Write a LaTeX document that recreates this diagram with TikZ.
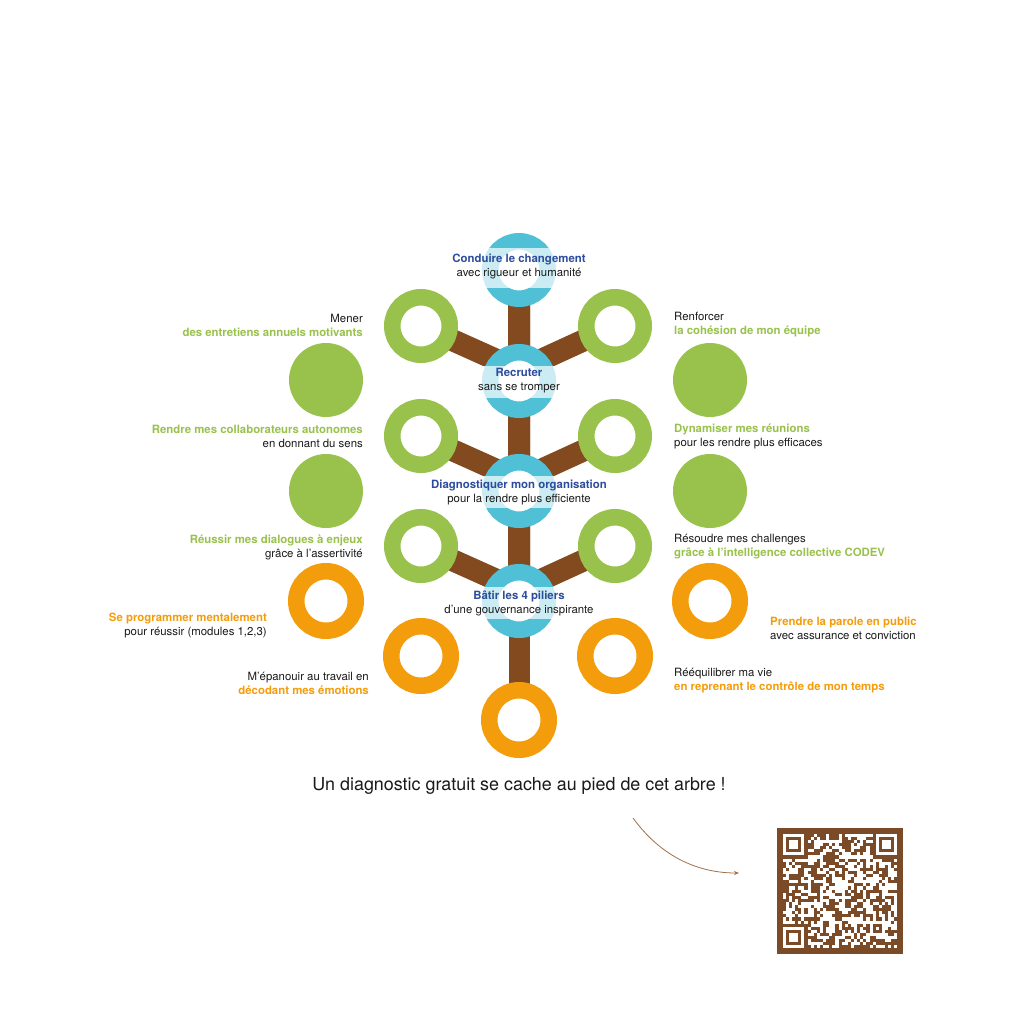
\documentclass[tikz,border=0pt]{standalone}
\usepackage{fontspec}
\setmainfont{TeX Gyre Heros}
\usetikzlibrary{arrows.meta}
\definecolor{grn}{HTML}{99C24D}
\definecolor{org}{HTML}{F49D0C}
\definecolor{blu}{HTML}{4FC0D5}
\definecolor{brn}{HTML}{844A1F}
\definecolor{dblue}{HTML}{2C4C9C}
\definecolor{txt}{HTML}{1A1A1A}
\definecolor{qrb}{HTML}{7B4A26}
\definecolor{arc}{HTML}{A0704A}
\pgfdeclarelayer{bg}
\pgfsetlayers{bg,main}
\tikzset{
  ring/.style={circle, draw=#1, fill=white, line width=16.5pt, minimum size=57.5pt, inner sep=0pt},
  bigring/.style={circle, draw=#1, fill=white, line width=16.5pt, minimum size=59.5pt, inner sep=0pt},
  disk/.style={circle, fill=#1, minimum size=74pt, inner sep=0pt},
  lbl/.style={font=\fontsize{11.4}{14}\selectfont, text=txt, inner sep=0pt},
  band/.style={fill=white, fill opacity=0.7, minimum width=150pt, minimum height=#1, inner sep=0pt},
  trunk/.style={draw=brn, line width=21pt},
  branch/.style={draw=brn, line width=22pt, rounded corners=20pt},
}
\newcommand{\gbf}[1]{\textcolor{grn}{\bfseries #1}}
\newcommand{\obf}[1]{\textcolor{org}{\bfseries #1}}
\newcommand{\dbf}[1]{\textcolor{dblue}{\bfseries #1}}
\begin{document}
\begin{tikzpicture}[x=1pt,y=-1pt]
\begin{pgfonlayer}{bg}
\fill[white] (0,0) rectangle (1024,1024);
\end{pgfonlayer}
\useasboundingbox (0,0) rectangle (1024,1024);

% central blue rings
\node[ring=blu] (b1) at (519,270) {};
\node[ring=blu] (b2) at (519,381) {};
\node[ring=blu] (b3) at (519,491) {};
\node[ring=blu] (b4) at (519,601) {};

% green rings
\node[ring=grn] (gl1) at (421,326) {};
\node[ring=grn] (gr1) at (615,326) {};
\node[ring=grn] (gl2) at (421,436) {};
\node[ring=grn] (gr2) at (615,436) {};
\node[ring=grn] (gl3) at (421,546) {};
\node[ring=grn] (gr3) at (615,546) {};

% green disks
\node[disk=grn] (dl1) at (326,380) {};
\node[disk=grn] (dl2) at (326,491) {};
\node[disk=grn] (dr1) at (710,380) {};
\node[disk=grn] (dr2) at (710,491) {};

% orange rings
\node[bigring=org] (ol1) at (326,601) {};
\node[bigring=org] (or1) at (710,601) {};
\node[bigring=org] (ol2) at (421,656) {};
\node[bigring=org] (or2) at (615,656) {};
\node[bigring=org] (ob) at (519,720) {};

% branches
\begin{pgfonlayer}{bg}
\draw[trunk] (b1.center) -- (ob.center);
\draw[branch] (gl1.center) -- ([yshift=11pt]b2.center) -- (b1.center);
\draw[branch] (gr1.center) -- ([yshift=11pt]b2.center) -- (b1.center);
\draw[branch] (gl2.center) -- ([yshift=11pt]b3.center) -- (b2.center);
\draw[branch] (gr2.center) -- ([yshift=11pt]b3.center) -- (b2.center);
\draw[branch] (gl3.center) -- ([yshift=11pt]b4.center) -- (b3.center);
\draw[branch] (gr3.center) -- ([yshift=11pt]b4.center) -- (b3.center);
\end{pgfonlayer}

% translucent bands
\node[band=40pt] (k1) at (519,268) {};
\node[band=32pt] (k2) at (519,382) {};
\node[band=32pt] (k3) at (519,492) {};
\node[band=32pt] (k4) at (519,603) {};

% central labels
\node[lbl, align=center] (c1) at (519,266) {\dbf{Conduire le changement}\\avec rigueur et humanité};
\node[lbl, align=center] (c2) at (519,381) {\dbf{Recruter}\\sans se tromper};
\node[lbl, align=center] (c3) at (519,492) {\dbf{Diagnostiquer mon organisation}\\pour la rendre plus efficiente};
\node[lbl, align=center] (c4) at (519,603) {\dbf{Bâtir les 4 piliers}\\d’une gouvernance inspirante};

% left labels
\node[lbl, align=right, anchor=east] (l1) at (363,325) {Mener\\\gbf{des entretiens annuels motivants}};
\node[lbl, align=right, anchor=east] (l2) at (363,436) {\gbf{Rendre mes collaborateurs autonomes}\\en donnant du sens};
\node[lbl, align=right, anchor=east] (l3) at (363,547) {\gbf{Réussir mes dialogues à enjeux}\\grâce à l'assertivité};
\node[lbl, align=right, anchor=east] (l4) at (267,626) {\obf{Se programmer mentalement}\\pour réussir (modules 1,2,3)};
\node[lbl, align=right, anchor=east] (l5) at (369,683) {M'épanouir au travail en\\\obf{décodant mes émotions}};

% right labels
\node[lbl, align=left, anchor=west] (r1) at (674,325) {Renforcer\\\gbf{la cohésion de mon équipe}};
\node[lbl, align=left, anchor=west] (r2) at (674,436) {\gbf{Dynamiser mes réunions}\\pour les rendre plus efficaces};
\node[lbl, align=left, anchor=west] (r3) at (674,547) {Résoudre mes challenges\\\gbf{grâce à l'intelligence collective CODEV}};
\node[lbl, align=left, anchor=west] (r4) at (770,628) {\obf{Prendre la parole en public}\\avec assurance et conviction};
\node[lbl, align=left, anchor=west] (r5) at (674,681) {Rééquilibrer ma vie\\\obf{en reprenant le contrôle de mon temps}};

% bottom message
\node[font=\fontsize{17.9}{20}\selectfont, text=txt, inner sep=0pt] (msg) at (519,786) {Un diagnostic gratuit se cache au pied de cet arbre~!};

% arrow
\coordinate (as) at (633,818);
\coordinate (ae) at (739,873);
\draw[arc, line width=0.8pt, -{Stealth[length=5pt,width=4pt]}] (as) .. controls (665,862) and (705,873) .. (ae);

% QR code
\fill[qrb] (777,828) rectangle (903,954);
\pgfmathsetseed{11}
\foreach \i in {0,...,36}{
  \foreach \j in {0,...,36}{
    \pgfmathtruncatemacro\fz{((\i<8)&&(\j<8))||((\i>28)&&(\j<8))||((\i<8)&&(\j>28))}
    \pgfmathtruncatemacro\on{rnd<0.5}
    \ifnum\fz=0 \ifnum\on=1
      \fill[white] (782.7+\i*3.1,833.7+\j*3.1) rectangle ++(3.15,3.15);
    \fi\fi
  }
}
\foreach \a/\b in {0/0,30/0,0/30}{
  \fill[white] (782.7+\a*3.1,833.7+\b*3.1) rectangle ++(21.7,21.7);
  \fill[qrb] (782.7+\a*3.1+3.1,833.7+\b*3.1+3.1) rectangle ++(15.5,15.5);
  \fill[white] (782.7+\a*3.1+6.2,833.7+\b*3.1+6.2) rectangle ++(9.3,9.3);
}
\fill[white] (782.7+28*3.1,833.7+28*3.1) rectangle ++(15.5,15.5);
\fill[qrb] (782.7+29*3.1,833.7+29*3.1) rectangle ++(9.3,9.3);
\fill[white] (782.7+30*3.1,833.7+30*3.1) rectangle ++(3.1,3.1);
\end{tikzpicture}
\end{document}
